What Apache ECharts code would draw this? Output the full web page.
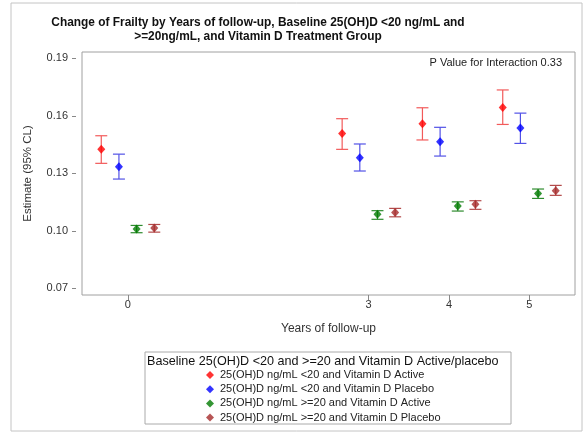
<!DOCTYPE html>
<html>
<head>
<meta charset="utf-8">
<script src="https://cdn.jsdelivr.net/npm/echarts@6/dist/echarts.min.js"></script>
<style>html,body{margin:0;padding:0;background:#fff}#c{width:584px;height:433px}</style>
</head>
<body>
<div id="c"></div>
<script>
// ---- data ----
var years = [0, 3, 4, 5];
var yTicks = [0.07, 0.10, 0.13, 0.16, 0.19];
var seriesNames = [
  '25(OH)D ng/mL <20 and Vitamin D Active',
  '25(OH)D ng/mL <20 and Vitamin D Placebo',
  '25(OH)D ng/mL >=20 and Vitamin D Active',
  '25(OH)D ng/mL >=20 and Vitamin D Placebo'
];
var lt20Active_est  = [0.1425, 0.1508, 0.1559, 0.1644];
var lt20Active_low  = [0.1352, 0.1425, 0.1474, 0.1555];
var lt20Active_high = [0.1496, 0.1585, 0.1642, 0.1735];

var lt20Placebo_est  = [0.1334, 0.1381, 0.1465, 0.1536];
var lt20Placebo_low  = [0.1270, 0.1312, 0.1390, 0.1456];
var lt20Placebo_high = [0.1400, 0.1453, 0.1540, 0.1614];

var ge20Active_est  = [0.1009, 0.1086, 0.1129, 0.1195];
var ge20Active_low  = [0.0990, 0.1060, 0.1103, 0.1169];
var ge20Active_high = [0.1028, 0.1105, 0.1151, 0.1218];

var ge20Placebo_est  = [0.1014, 0.1096, 0.1138, 0.1209];
var ge20Placebo_low  = [0.0993, 0.1073, 0.1112, 0.1185];
var ge20Placebo_high = [0.1033, 0.1117, 0.1157, 0.1237];

// ---- styling / layout ----
var groups = [
  {est: lt20Active_est, low: lt20Active_low, high: lt20Active_high, color: '#ff0000', bar: '#f25a5a', dx: -0.33},
  {est: lt20Placebo_est, low: lt20Placebo_low, high: lt20Placebo_high, color: '#0000ff', bar: '#5252e6', dx: -0.11},
  {est: ge20Active_est, low: ge20Active_low, high: ge20Active_high, color: '#007a00', bar: '#2e8b2e', dx: 0.11},
  {est: ge20Placebo_est, low: ge20Placebo_low, high: ge20Placebo_high, color: '#a52a2a', bar: '#b34a4a', dx: 0.33}
];
var FONT = '"Liberation Sans", Arial, sans-serif';

var series = [];
groups.forEach(function (g, i) {
  series.push({
    type: 'custom',
    name: seriesNames[i] + ' CL',
    silent: true,
    z: 2,
    data: years.map(function (yr, k) { return [yr + g.dx, g.low[k], g.high[k]]; }),
    renderItem: function (params, api) {
      var lo = api.coord([api.value(0), api.value(1)]);
      var hi = api.coord([api.value(0), api.value(2)]);
      var w = 6;
      var st = {stroke: g.bar, lineWidth: 1.2};
      return {
        type: 'group',
        children: [
          {type: 'line', shape: {x1: lo[0], y1: lo[1], x2: hi[0], y2: hi[1]}, style: st},
          {type: 'line', shape: {x1: lo[0] - w, y1: lo[1], x2: lo[0] + w, y2: lo[1]}, style: st},
          {type: 'line', shape: {x1: hi[0] - w, y1: hi[1], x2: hi[0] + w, y2: hi[1]}, style: st}
        ]
      };
    }
  });
});
groups.forEach(function (g, i) {
  series.push({
    type: 'scatter',
    name: seriesNames[i],
    symbol: 'diamond',
    symbolSize: [8, 9],
    z: 3,
    itemStyle: {color: g.color},
    data: years.map(function (yr, k) { return [yr + g.dx, g.est[k]]; })
  });
});

var chart = echarts.init(document.getElementById('c'), null, {renderer: 'canvas'});
chart.setOption({
  animation: false,
  backgroundColor: '#fff',
  textStyle: {fontFamily: FONT},
  grid: {left: 82, right: 9, top: 52, bottom: 138, show: true, borderColor: '#a0a0a0', borderWidth: 1, containLabel: false},
  xAxis: {
    type: 'value', min: -0.57, max: 5.57,
    name: 'Years of follow-up', nameLocation: 'middle', nameGap: 28,
    nameTextStyle: {fontSize: 12, color: '#333', fontFamily: FONT},
    axisLine: {show: false, onZero: false},
    axisTick: {show: true, length: 5, lineStyle: {color: '#888'}, customValues: years},
    axisLabel: {fontSize: 11, color: '#333', margin: 4, fontFamily: FONT, customValues: years},
    splitLine: {show: false}
  },
  yAxis: {
    type: 'value', min: 0.0665, max: 0.1933, offset: 6,
    name: 'Estimate (95% CL)', nameLocation: 'middle', nameGap: 42, nameRotate: 90,
    nameTextStyle: {fontSize: 11.5, color: '#333', fontFamily: FONT},
    axisLine: {show: false, onZero: false},
    axisTick: {show: true, length: 4, lineStyle: {color: '#888'}, customValues: yTicks},
    axisLabel: {fontSize: 11, color: '#333', margin: 8, fontFamily: FONT, customValues: yTicks,
      formatter: function (v) { return v.toFixed(2); }},
    splitLine: {show: false}
  },
  legend: {
    data: seriesNames,
    orient: 'vertical',
    left: 206, top: 369,
    itemWidth: 8, itemHeight: 8, itemGap: 2.2,
    icon: 'diamond',
    selectedMode: false,
    textStyle: {fontSize: 11, color: '#222', fontFamily: FONT, padding: [0, 0, 0, 1], lineHeight: 12},
    padding: 0
  },
  graphic: [
    {type: 'rect', shape: {x: 11, y: 3, width: 571, height: 428}, style: {fill: 'none', stroke: '#c4c4c4', lineWidth: 1}, silent: true},
    {type: 'text', x: 258, y: 16, style: {text: 'Change of Frailty by Years of follow-up, Baseline 25(OH)D <20 ng/mL and\n>=20ng/mL, and Vitamin D Treatment Group',
      align: 'center', lineHeight: 14, fill: '#111', font: 'bold 11.9px ' + FONT}},
    {type: 'text', x: 562, y: 57, style: {text: 'P Value for Interaction 0.33', align: 'right', fontSize: 11, fill: '#222', fontFamily: FONT}},
    {type: 'rect', shape: {x: 145, y: 352, width: 366, height: 72}, style: {fill: 'none', stroke: '#aaa', lineWidth: 1}, silent: true},
    {type: 'text', x: 147, y: 355, style: {text: 'Baseline 25(OH)D <20 and >=20 and Vitamin D Active/placebo', fontSize: 12.6, fill: '#111', fontFamily: FONT}}
  ],
  series: series
});
</script>
</body>
</html>
